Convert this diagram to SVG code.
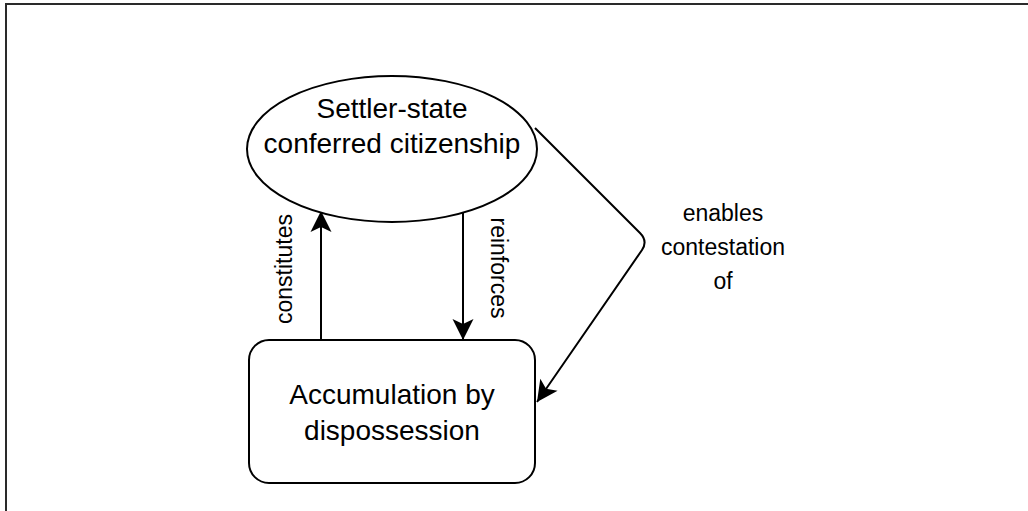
<svg xmlns="http://www.w3.org/2000/svg" width="1028" height="511" viewBox="0 0 1028 511">
  <style>
    .shape { fill: #ffffff; stroke: #000000; stroke-width: 2; }
    .edge { fill: none; stroke: #000000; stroke-width: 2; }
    .node-text { font-family: "Liberation Sans", Arial, Helvetica, sans-serif; font-size: 28px; fill: #000000; text-anchor: middle; }
    .label { font-family: "Liberation Sans", Arial, Helvetica, sans-serif; font-size: 23px; fill: #000000; text-anchor: middle; }
  </style>
  <defs>
    <marker id="arrow" viewBox="-22 -12 24 24" refX="0" refY="0" markerWidth="24" markerHeight="24" markerUnits="userSpaceOnUse" orient="auto">
      <path d="M0,0 L-21,-10.5 L-16,0 L-21,10.5 Z" fill="#000000" stroke="none"/>
    </marker>
  </defs>
  <rect width="1028" height="511" fill="#ffffff"/>
  <path d="M6,511 V4 H1028" fill="none" stroke="#2a2a2a" stroke-width="2"/>

  <g id="connectors">
    <path class="edge" d="M321,340 V211" marker-end="url(#arrow)"/>
    <path class="edge" d="M463,211 V340" marker-end="url(#arrow)"/>
    <path class="edge" d="M535,128 L640,233 Q648,241 642,250 L537,402" marker-end="url(#arrow)"/>
    <text class="label" transform="translate(292,269) rotate(-90)">constitutes</text>
    <text class="label" transform="translate(491,268) rotate(90)">reinforces</text>
    <text class="label" x="723" y="221">enables</text>
    <text class="label" x="723" y="255">contestation</text>
    <text class="label" x="723" y="289">of</text>
  </g>

  <g id="node-citizenship">
    <ellipse class="shape" cx="392" cy="149" rx="145" ry="73"/>
    <text class="node-text" x="392" y="118">Settler-state</text>
    <text class="node-text" x="392" y="153">conferred citizenship</text>
  </g>

  <g id="node-accumulation">
    <rect class="shape" x="249" y="340" width="286" height="143" rx="20" ry="20"/>
    <text class="node-text" x="392" y="404">Accumulation by</text>
    <text class="node-text" x="392" y="440">dispossession</text>
  </g>
</svg>
